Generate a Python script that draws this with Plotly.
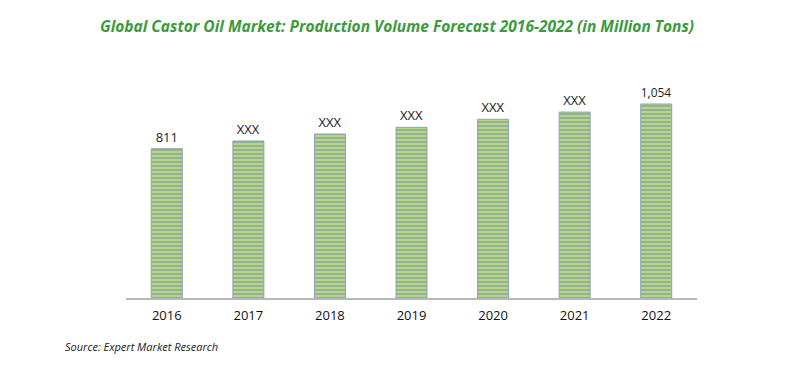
import plotly.graph_objects as go

years = ["2016", "2017", "2018", "2019", "2020", "2021", "2022"]
values = [811, 853, 891, 927, 971, 1010, 1054]
labels = ["811", "XXX", "XXX", "XXX", "XXX", "XXX", "1,054"]

fig = go.Figure(go.Bar(
    x=years, y=values, text=labels, textposition="outside",
    textfont=dict(family="Open Sans, Liberation Sans, sans-serif", size=13, color="#222"),
    cliponaxis=False,
    marker=dict(
        color="#b5d47c",
        line=dict(width=1, color="#8aa3b8"),
        pattern=dict(shape="-", fgcolor="#6a89a8", bgcolor="#bcd883", size=4, solidity=0.55),
    ),
))

fig.update_layout(
    width=793, height=387,
    margin=dict(l=118, r=104, t=52, b=97),
    paper_bgcolor="white", plot_bgcolor="white",
    bargap=0.62,
    showlegend=False,
    title=dict(
        text="<b><i>Global Castor Oil Market: Production Volume Forecast 2016-2022 (in Million Tons)</i></b>",
        x=(397 - 8) / 793, xanchor="center", y=1 - (27 - 8) / 387, yanchor="middle",
        font=dict(family="Open Sans, Liberation Sans, sans-serif", size=15.5, color="#3c9a3c"),
    ),
    xaxis=dict(
        showline=True, linecolor="#b8b8b8", linewidth=2, ticks="",
        tickfont=dict(family="Open Sans, Liberation Sans, sans-serif", size=13, color="#111"),
        ticklabelstandoff=4,
        showgrid=False,
    ),
    yaxis=dict(range=[0, 1293], visible=False, showgrid=False),
    annotations=[dict(
        text="<i>Source: Expert Market Research</i>", xref="paper", yref="paper",
        x=(63 - 126) / 571, y=-(346 - 298) / 238, xanchor="left", yanchor="middle",
        showarrow=False,
        font=dict(family="Open Sans, Liberation Sans, sans-serif", size=11, color="#222"),
    )],
)

fig.write_html("out.html")
